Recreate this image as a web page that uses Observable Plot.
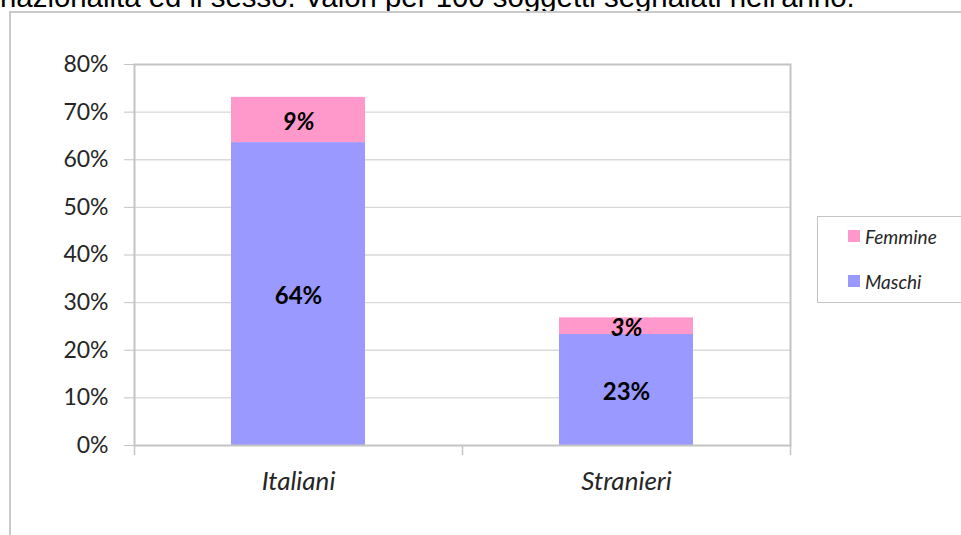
<!DOCTYPE html>
<html><head><meta charset="utf-8">
<script src="https://cdn.jsdelivr.net/npm/d3@7"></script>
<script src="https://cdn.jsdelivr.net/npm/@observablehq/plot@0.6"></script>
<style>
body{margin:0;background:#fff;overflow:hidden;}
#wrap{position:relative;width:961px;height:535px;overflow:hidden;background:#fff;}
#title{position:absolute;left:0;top:-18.5px;font-family:"Liberation Sans",Arial,sans-serif;font-size:29.4px;line-height:29px;white-space:nowrap;color:#000;}
#border{position:absolute;left:9px;top:11px;width:1000px;height:600px;border:2px solid #cacaca;box-sizing:border-box;}
#chart{position:absolute;left:0;top:0;}
#legend{position:absolute;left:817px;top:216px;width:160px;height:87px;border:1.5px solid #c4c4c4;background:#fff;font-family:Lato,sans-serif;font-style:italic;font-size:19px;color:#262626;box-sizing:border-box;}
.li{position:absolute;left:30px;display:flex;align-items:center;height:18px;}
.sw{width:12px;height:12px;margin-right:5px;}
</style></head>
<body>
<div id="wrap">
  <div id="title"></div>
  <div id="border"></div>
  <div id="chart"></div>
  <div id="legend"></div>
</div>
<script>
const titleText = "nazionalità ed il sesso. Valori per 100 soggetti segnalati nell'anno.";
const categories = ["Italiani", "Stranieri"];
const sexes = ["Maschi", "Femmine"];
const maschi = [0.636, 0.233];
const femmine = [0.095, 0.035];
const maschiLabels = ["64%", "23%"];
const femmineLabels = ["9%", "3%"];
const yTicks = [0, 0.1, 0.2, 0.3, 0.4, 0.5, 0.6, 0.7, 0.8];
const yTickLabels = ["0%", "10%", "20%", "30%", "40%", "50%", "60%", "70%", "80%"];
const colors = ["#9999FF", "#FF99CC"];
const legendOrder = ["Femmine", "Maschi"];

document.getElementById("title").textContent = titleText;

const data = categories.flatMap((c, i) => [
  {cat: c, sex: "Maschi", value: maschi[i], label: maschiLabels[i], mid: maschi[i] / 2},
  {cat: c, sex: "Femmine", value: femmine[i], label: femmineLabels[i], mid: maschi[i] + femmine[i] / 2}
]);

const W = 961, H = 535, ML = 134, MR = 171, MT = 64, MB = 90;
const step = (W - ML - MR) / categories.length;
const gray = "#c4c4c4";

const chart = Plot.plot({
  width: W, height: H,
  marginLeft: ML, marginRight: MR, marginTop: MT, marginBottom: MB,
  x: {domain: categories, paddingInner: 0.59, paddingOuter: 0.295, axis: null},
  y: {domain: [0, 0.8], axis: null},
  color: {domain: sexes, range: colors},
  style: {fontFamily: "Lato, sans-serif", background: "transparent", overflow: "visible"},
  marks: [
    Plot.ruleY(yTicks.slice(1, -1), {stroke: "#d9d9d9", strokeWidth: 1.3}),
    Plot.barY(data, {x: "cat", y: "value", fill: "sex"}),
    Plot.frame({stroke: gray, strokeWidth: 2}),
    Plot.ruleX(categories, {x: d => d, dx: -step / 2, y1: 0, y2: -0.021, stroke: gray, strokeWidth: 1.5}),
    Plot.ruleX(categories.slice(-1), {x: d => d, dx: step / 2, y1: 0, y2: -0.021, stroke: gray, strokeWidth: 1.5}),
    Plot.axisY({ticks: yTicks, tickFormat: (d, i) => yTickLabels[i], tickSize: 10, tickPadding: 16,
      stroke: gray, fill: "#262626", fontSize: 23, label: null}),
    Plot.axisX({tickSize: 0, tickPadding: 26, fill: "#262626", fontSize: 26, fontStyle: "italic", label: null}),
    Plot.text(data.filter(d => d.sex === "Maschi"), {x: "cat", y: "mid", text: "label", dy: 2,
      fontSize: 24, fontWeight: "bold", fill: "#000"}),
    Plot.text(data.filter(d => d.sex === "Femmine"), {x: "cat", y: "mid", text: "label", dy: 2,
      fontSize: 24, fontWeight: "bold", fontStyle: "italic", fill: "#000"})
  ]
});
document.getElementById("chart").appendChild(chart);

const legend = document.getElementById("legend");
legendOrder.forEach((s, i) => {
  const d = document.createElement("div");
  d.className = "li";
  d.style.top = (10 + i * 45) + "px";
  const sw = document.createElement("span");
  sw.className = "sw";
  sw.style.background = colors[sexes.indexOf(s)];
  const t = document.createElement("span");
  t.textContent = s;
  d.appendChild(sw); d.appendChild(t);
  legend.appendChild(d);
});
</script>
</body></html>
